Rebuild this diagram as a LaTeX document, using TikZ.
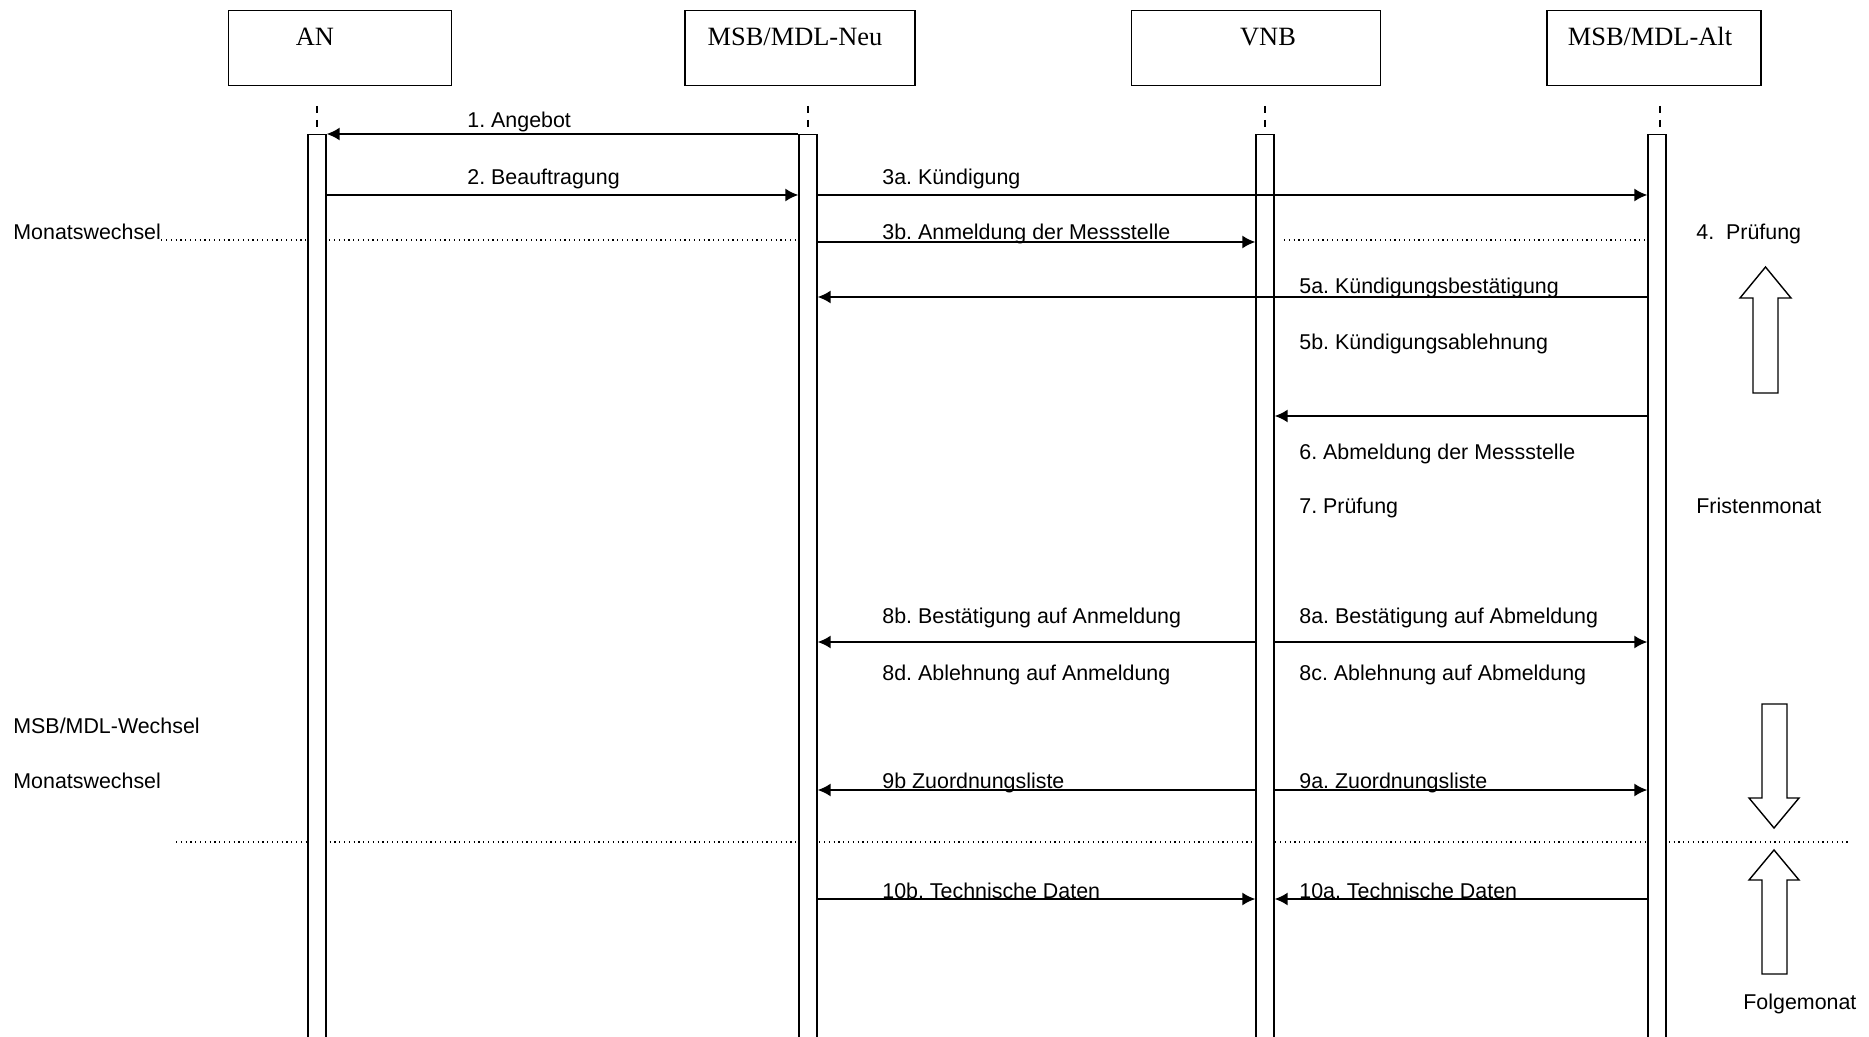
\documentclass[tikz,border=0pt]{standalone}
\usepackage{fontspec}
\setmainfont{Liberation Sans}
\newfontfamily\boxfont{Liberation Serif}
\usepackage{tikz}
\usetikzlibrary{arrows, arrows.meta, positioning}
\frenchspacing

\begin{document}
\begin{tikzpicture}[x=0.5pt, y=-0.5pt,
  actor/.style={draw, line width=0.7pt, rectangle, inner sep=0pt, anchor=north,
                text height=17.5pt, text depth=20pt, font=\boxfont\fontsize{13.2}{15}\selectfont},
  bar/.style={draw, fill=white, line width=0.6pt, rectangle, inner sep=0pt, anchor=north,
              minimum width=9pt, minimum height=453pt},
  stub/.style={line width=0.6pt, dash pattern=on 3.5pt off 3.5pt},
  msg/.style={inner sep=0pt, anchor=base west, font=\fontsize{10.7}{13}\selectfont},
  call/.style={draw, line width=1pt, -{Latex[length=6.5pt, width=6.5pt]}},
  month/.style={line width=0.6pt, dash pattern=on 0.6pt off 1.8pt},
  block/.style={draw, line width=0.7pt, fill=white}]

\useasboundingbox (0,0) rectangle (1869,1037);

\node [actor, minimum width=111.5pt] (an)  at (340,10)  {AN\hspace*{25pt}};
\node [actor, minimum width=115pt  ] (neu) at (800,10)  {MSB/MDL-Neu\hspace*{5pt}};
\node [actor, minimum width=124.5pt] (vnb) at (1256,10) {\hspace*{12pt}VNB};
\node [actor, minimum width=107pt  ] (alt) at (1654,10) {MSB/MDL-Alt\hspace*{4pt}};

\draw [stub] (317,106)  -- (317,128);
\draw [stub] (808,106)  -- (808,128);
\draw [stub] (1265,106) -- (1265,128);
\draw [stub] (1660,106) -- (1660,128);

% month lines
\node [msg] (mw1) at (13,240)  {Monatswechsel};
\node [msg] (mw)  at (13,733)  {MSB/MDL-Wechsel};
\node [msg] (mw2) at (13,788)  {Monatswechsel};
\draw [month] (mw1.base east) -- (808,240);
\draw [month] (1284,240) -- (1645,240);
\draw [month] (176,842) -- (1850,842);

\node [bar] (ban)  at (317,134)  {};
\node [bar] (bneu) at (808,134)  {};
\node [bar] (bvnb) at (1265,134) {};
\node [bar] (balt) at (1657,134) {};

\coordinate (y1)  at (0,134);
\coordinate (y2)  at (0,195);
\coordinate (y3)  at (0,242);
\coordinate (y5)  at (0,297);
\coordinate (y6)  at (0,416);
\coordinate (y8)  at (0,642);
\coordinate (y9)  at (0,790);
\coordinate (y10) at (0,899);

\path [call] (bneu.west |- y1)  -- (ban.east |- y1);
\path [call] (ban.east |- y2)   -- (bneu.west |- y2);
\path [call] (bneu.east |- y2)  -- (balt.west |- y2);
\path [call] (bneu.east |- y3)  -- (bvnb.west |- y3);
\path [call] (balt.west |- y5)  -- (bneu.east |- y5);
\path [call] (balt.west |- y6)  -- (bvnb.east |- y6);
\path [call] (bvnb.west |- y8)  -- (bneu.east |- y8);
\path [call] (bvnb.east |- y8)  -- (balt.west |- y8);
\path [call] (bvnb.west |- y9)  -- (bneu.east |- y9);
\path [call] (bvnb.east |- y9)  -- (balt.west |- y9);
\path [call] (bneu.east |- y10) -- (bvnb.west |- y10);
\path [call] (balt.west |- y10) -- (bvnb.east |- y10);

\node [msg] (m1)  at (467,128)  {1. Angebot};
\node [msg] (m2)  at (467,185)  {2. Beauftragung};
\node [msg] (m3a) at (882,185)  {3a. Kündigung};
\node [msg] (m3b) at (882,240)  {3b. Anmeldung der Messstelle};
\node [msg] (m4)  at (1696,240) {4.\ \ Prüfung};
\node [msg] (m5a) at (1299,294) {5a. Kündigungsbestätigung};
\node [msg] (m5b) at (1299,350) {5b. Kündigungsablehnung};
\node [msg] (m6)  at (1299,459) {6. Abmeldung der Messstelle};
\node [msg] (m7)  at (1299,514) {7. Prüfung};
\node [msg] (fr)  at (1696,514) {Fristenmonat};
\node [msg] (m8b) at (882,623)  {8b. Bestätigung auf Anmeldung};
\node [msg] (m8a) at (1299,623) {8a. Bestätigung auf Abmeldung};
\node [msg] (m8d) at (882,680)  {8d. Ablehnung auf Anmeldung};
\node [msg] (m8c) at (1299,680) {8c. Ablehnung auf Abmeldung};
\node [msg] (m9b) at (882,788)  {9b Zuordnungsliste};
\node [msg] (m9a) at (1299,788) {9a. Zuordnungsliste};
\node [msg] (m10b) at (882,898) {10b. Technische Daten};
\node [msg] (m10a) at (1299,898) {10a. Technische Daten};
\node [msg] (fo)  at (1743,1009) {Folgemonat};

% period arrows
\draw [block] (1765.5,267) -- (1791,298) -- (1778,298) -- (1778,393) -- (1753,393) -- (1753,298) -- (1740,298) -- cycle;
\draw [block] (1774,828) -- (1799,798) -- (1787,798) -- (1787,704) -- (1762,704) -- (1762,798) -- (1749,798) -- cycle;
\draw [block] (1774,850) -- (1799,880) -- (1787,880) -- (1787,974) -- (1762,974) -- (1762,880) -- (1749,880) -- cycle;

\end{tikzpicture}
\end{document}
